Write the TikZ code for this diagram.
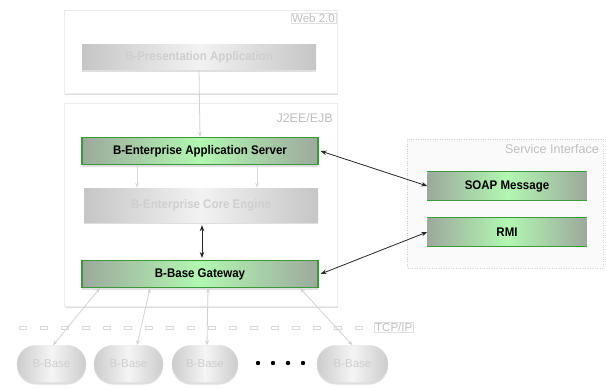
\documentclass[tikz,border=0pt]{standalone}
\usepackage{fontspec}
\setmainfont{Liberation Sans}
\newfontfamily\condb[FakeStretch=0.92]{Liberation Sans}
\usetikzlibrary{shadows,shapes.misc,arrows.meta}
\definecolor{gborder}{HTML}{3A9A3A}
\definecolor{gmid}{HTML}{B2F7B2}
\definecolor{gedge}{HTML}{9DA99D}
\tikzset{
  panel/.style={draw=gray!15, fill=white, drop shadow={shadow xshift=1pt, shadow yshift=-2pt, opacity=0.25}},
  boldtext/.style={font=\condb\fontsize{12.5}{14}\selectfont\bfseries},
  greenbox/.style={boldtext, draw=gborder, line width=1.1pt, left color=gedge, right color=gedge, middle color=gmid,
    minimum width=236pt, minimum height=27pt, inner sep=0pt,
    drop shadow={shadow xshift=0pt, shadow yshift=-2pt, opacity=0.25}},
  greybox/.style={boldtext, draw=none, left color=gray!45, right color=gray!45, middle color=gray!10,
    minimum width=234pt, inner sep=0pt, text=gray!38,
    drop shadow={shadow xshift=0pt, shadow yshift=-2pt, opacity=0.25}},
  sibox/.style={boldtext, draw=none, left color=gedge, right color=gedge, middle color=gmid,
    minimum width=159pt, minimum height=28pt, inner sep=0pt},
  pill/.style={rounded rectangle, draw=gray!30, left color=gray!40, right color=gray!40, middle color=gray!8,
    minimum height=37pt, inner sep=0pt, text=gray!38, font=\fontsize{11.5}{13}\selectfont,
    drop shadow={shadow xshift=0pt, shadow yshift=-2pt, opacity=0.25}},
  tag/.style={text=gray!50, font=\fontsize{12.5}{14}\selectfont, inner sep=1pt},
  tagbox/.style={tag, draw=gray!25},
  lightarrow/.style={draw=gray!35, line width=0.8pt, {Stealth[length=5pt]}-{Stealth[length=5pt]}},
  darkarrow/.style={draw=black!85, line width=0.8pt, {Stealth[length=6pt]}-{Stealth[length=6pt]}},
}
\begin{document}
\begin{tikzpicture}[x=1pt,y=-1pt]
\useasboundingbox (0,0) rectangle (606,388);
% panels
\draw[panel] (64,10) rectangle (337,93);
\draw[panel] (64,103) rectangle (337,306);
\draw[draw=gray!35, dotted, fill=gray!4] (407,139) rectangle (603,268);
\node[tagbox, anchor=north east, font=\fontsize{11.5}{13}\selectfont] (webtag) at (336,13) {Web 2.0};
\node[tag, anchor=north east] (j2eetag) at (334,112) {J2EE/EJB};
\node[tag, anchor=north east] (sitag) at (600,143) {Service Interface};
% nodes
\node[greybox, minimum height=25pt] (pres) at (199,57) {B-Presentation Application};
\node[greenbox] (server) at (200,151) {B-Enterprise Application Server};
\node[greybox, minimum height=34pt] (core) at (201,205) {B-Enterprise Core Engine};
\node[greenbox] (gateway) at (200,274) {B-Base Gateway};
\node[sibox] (soap) at (507,186) {SOAP Message};
\node[sibox] (rmi) at (507,232) {RMI};
\foreach \n in {soap,rmi}{
  \draw[gborder, line width=1.2pt] (\n.north west) -- (\n.north east);
  \draw[gborder, line width=1.2pt] (\n.south west) -- (\n.south east);
}
% TCP/IP row
\foreach \x in {19,40,...,362}{
  \draw[gray!30, line width=0.6pt] (\x,326) rectangle ++(7,3);
}
\node[tagbox, anchor=west, font=\fontsize{11.5}{13}\selectfont] (tcptag) at (374,327) {TCP/IP};
% B-Base pills
\node[pill, minimum width=69pt] (b1) at (51.5,364) {B-Base};
\node[pill, minimum width=69pt] (b2) at (128.5,364) {B-Base};
\node[pill, minimum width=66pt] (b3) at (205,364) {B-Base};
\node[pill, minimum width=71pt] (b4) at (352.5,364) {B-Base};
\foreach \x in {258,273,288,303}{ \fill (\x,363) circle (2.2pt); }
% connectors
\draw[draw=gray!35, line width=0.8pt, -{Stealth[length=5pt]}] (pres.south) -- (server.north);
\draw[draw=gray!30, line width=0.8pt, -{Stealth[length=5pt]}] (server.south -| 137,0) -- (core.north -| 137,0);
\draw[draw=gray!30, line width=0.8pt, -{Stealth[length=5pt]}] (server.south -| 257,0) -- (core.north -| 257,0);
\draw[darkarrow] ([yshift=-3pt]core.south -| 202,0) -- ([yshift=2pt]gateway.north -| 202,0);
\draw[darkarrow] ([xshift=2pt]server.east) -- (soap.west);
\draw[darkarrow] ([xshift=2pt]gateway.east) -- (rmi.west);
\draw[lightarrow] (b1.north -| 53,0) -- (gateway.south -| 100,0);
\draw[lightarrow] (b2.north -| 137,0) -- (gateway.south -| 150,0);
\draw[lightarrow] (b3.north -| 207,0) -- (gateway.south -| 208,0);
\draw[lightarrow] (b4.north) -- (gateway.south -| 300,0);
\end{tikzpicture}
\end{document}
